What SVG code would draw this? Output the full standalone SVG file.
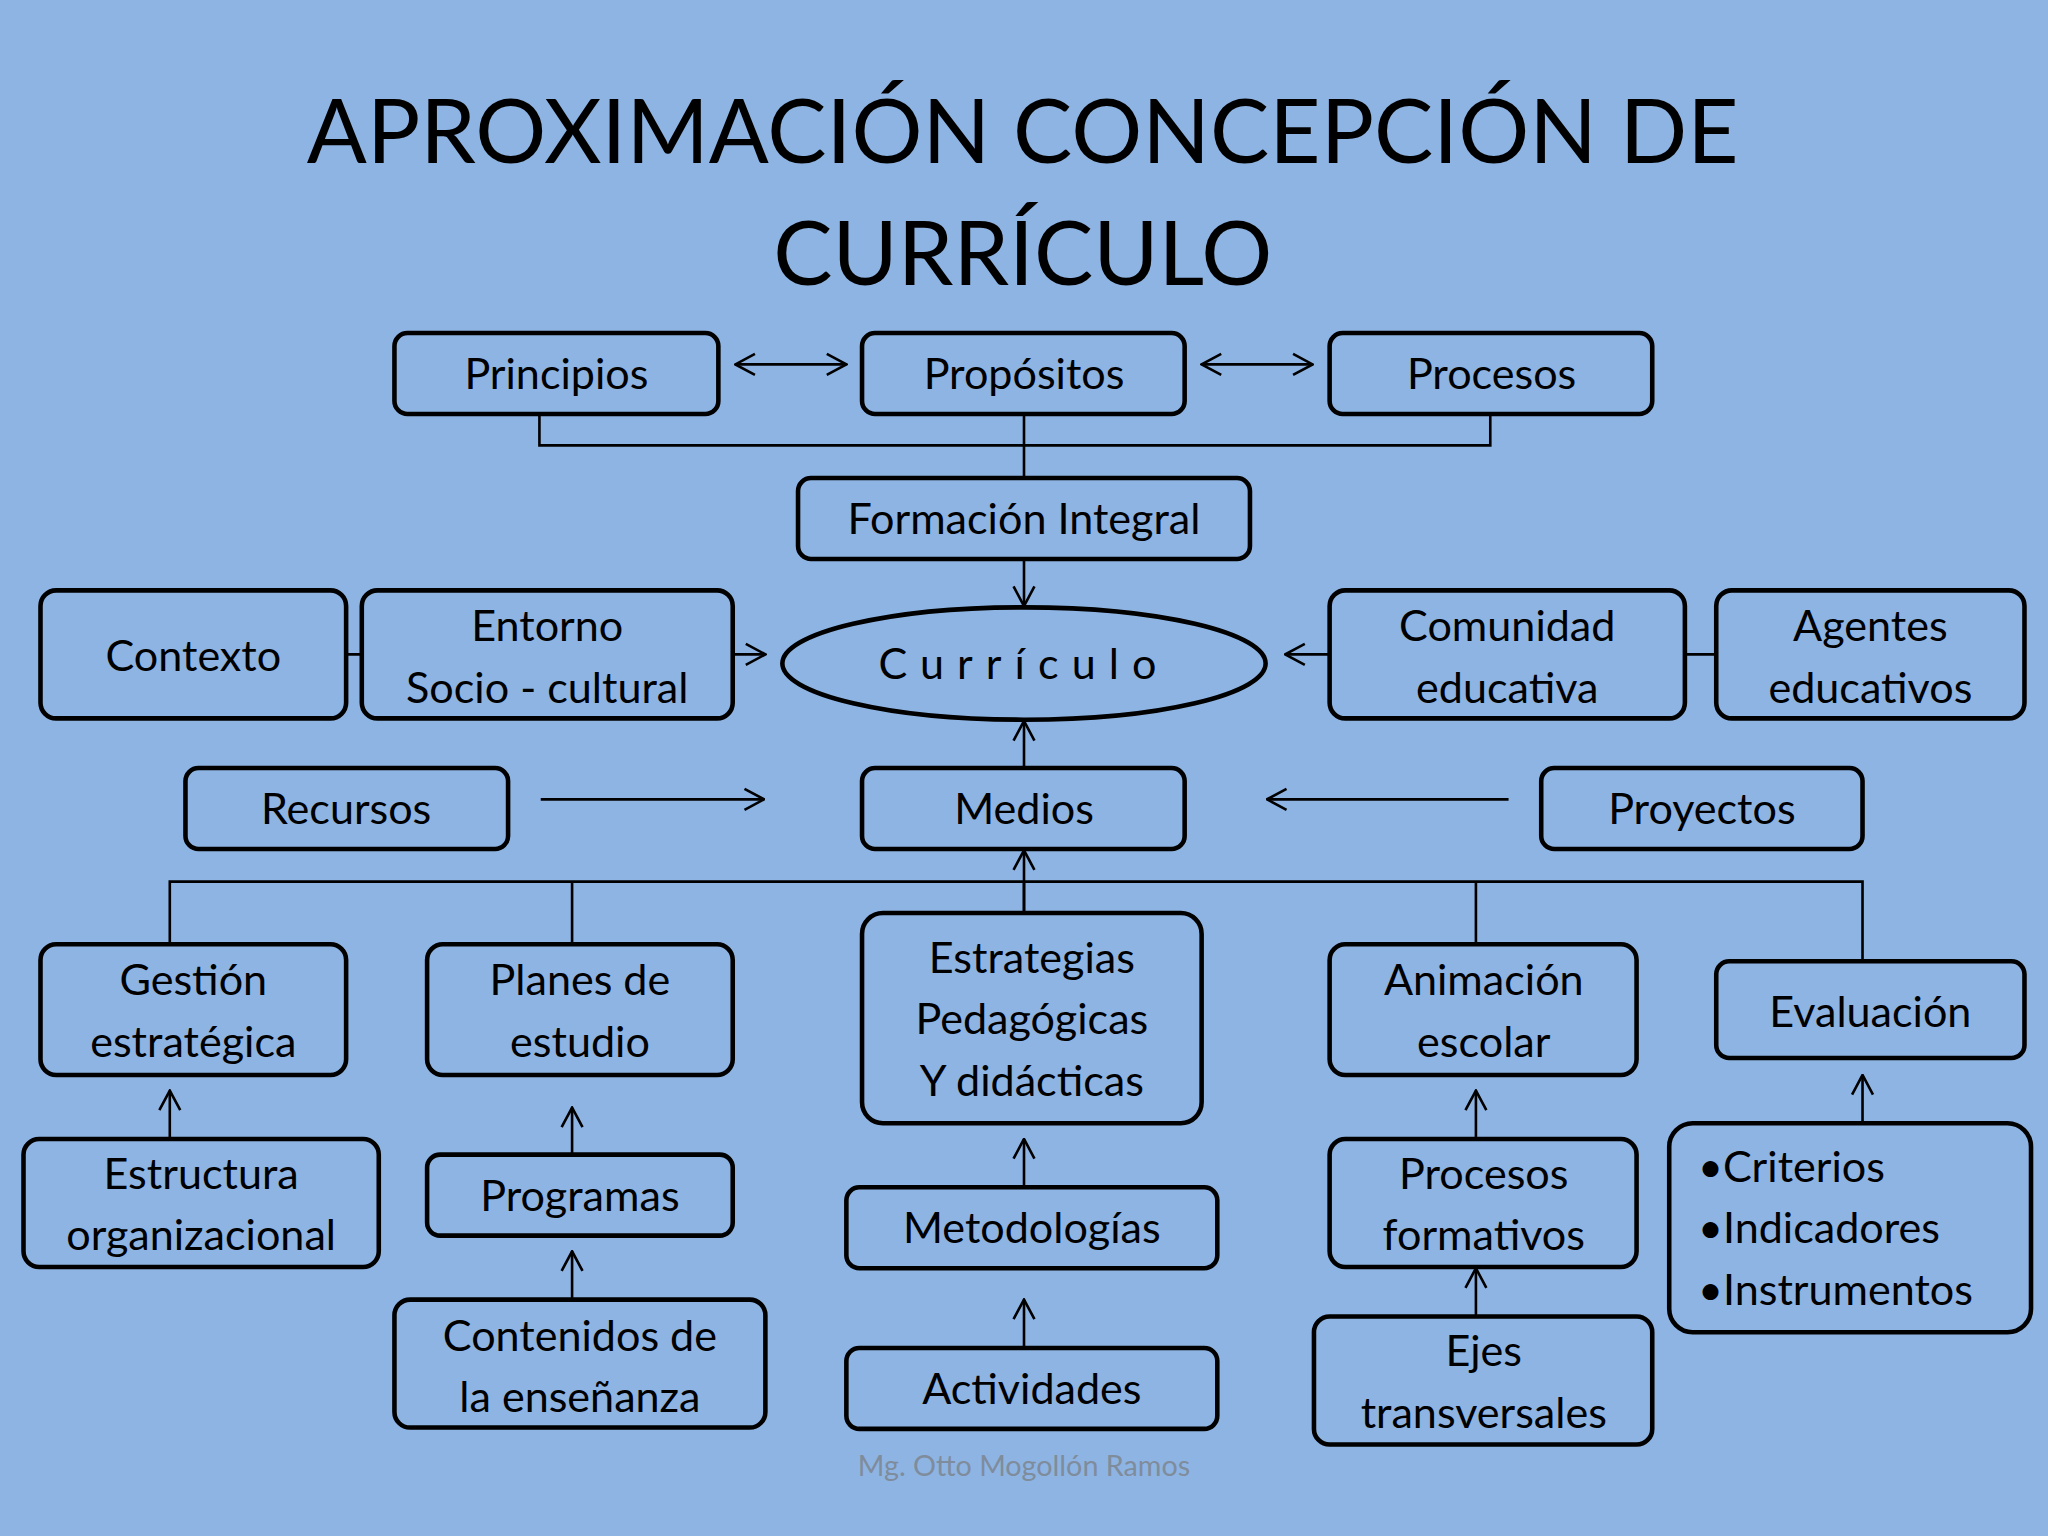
<svg xmlns="http://www.w3.org/2000/svg" width="2048" height="1536" viewBox="0 0 2048 1536">
<defs>
<marker id="a" viewBox="0 0 20 20" refX="19" refY="10" markerWidth="20" markerHeight="20" markerUnits="userSpaceOnUse" orient="auto-start-reverse"><path d="M4,2 L19,10 L4,18" fill="none" stroke="#000" stroke-width="2"/></marker>
<style>
.b{fill:#8eb4e3;stroke:#000;stroke-width:3.5}
.t{font-family:Lato,"Open Sans",sans-serif;font-size:33px;text-anchor:middle;fill:#000}
.l{fill:none;stroke:#000;stroke-width:2}
.ar{fill:none;stroke:#000;stroke-width:2;marker-end:url(#a)}
.dr{fill:none;stroke:#000;stroke-width:2;marker-end:url(#a);marker-start:url(#a)}
</style>
</defs>
<rect width="2048" height="1536" fill="#8eb4e3"/>
<g transform="scale(1.30612)">
<text x="783" y="125" style="font-family:Lato,'Open Sans',sans-serif;font-size:68px;text-anchor:middle">APROXIMACIÓN CONCEPCIÓN DE</text>
<text x="783" y="218" style="font-family:Lato,'Open Sans',sans-serif;font-size:68px;text-anchor:middle">CURRÍCULO</text>
<g id="connectors">
<path class="dr" d="M563,279 H648"/><path class="dr" d="M920,279 H1005"/>
<path class="l" d="M413,317 V341 H1141 V317 M784,317 V366"/>
<path class="ar" d="M784,428 V464"/>
<path class="l" d="M265,501 H277 M1290,501 H1314"/>
<path class="ar" d="M561,501 H586"/><path class="ar" d="M1018,501 H984"/>
<path class="ar" d="M784,588 V552"/>
<path class="ar" d="M414,612 H585"/><path class="ar" d="M1155,612 H970"/>
<path class="l" d="M130,723 V675 H1426 V736 M438,675 V723 M1130,675 V723 M784,675 V700"/>
<path class="ar" d="M784,700 V651"/>
<path class="ar" d="M130,872 V835"/><path class="ar" d="M438,884 V848"/><path class="ar" d="M438,995 V958"/>
<path class="ar" d="M784,909 V872"/><path class="ar" d="M784,1032 V995"/>
<path class="ar" d="M1130,872 V835"/><path class="ar" d="M1130,1008 V971"/><path class="ar" d="M1426,860 V823"/>
</g>
<g id="principios"><rect class="b" x="302" y="255" width="248" height="62" rx="10"/><text class="t" x="426" y="298">Principios</text></g>
<g id="propositos"><rect class="b" x="660" y="255" width="247" height="62" rx="10"/><text class="t" x="784" y="298">Propósitos</text></g>
<g id="procesos"><rect class="b" x="1018" y="255" width="247" height="62" rx="10"/><text class="t" x="1142" y="298">Procesos</text></g>
<g id="formacion"><rect class="b" x="611" y="366" width="346" height="62" rx="10"/><text class="t" x="784" y="409">Formación Integral</text></g>
<g id="curriculo"><ellipse class="b" cx="784" cy="508" rx="185" ry="43"/><text class="t" x="784" y="520" style="letter-spacing:10px">Currículo</text></g>
<g id="contexto"><rect class="b" x="31" y="452" width="234" height="98" rx="12"/><text class="t" x="148" y="514">Contexto</text></g>
<g id="entorno"><rect class="b" x="277" y="452" width="284" height="98" rx="12"/><text class="t" x="419" y="491">Entorno</text><text class="t" x="419" y="538">Socio - cultural</text></g>
<g id="comunidad"><rect class="b" x="1018" y="452" width="272" height="98" rx="12"/><text class="t" x="1154" y="491">Comunidad</text><text class="t" x="1154" y="538">educativa</text></g>
<g id="agentes"><rect class="b" x="1314" y="452" width="236" height="98" rx="12"/><text class="t" x="1432" y="491">Agentes</text><text class="t" x="1432" y="538">educativos</text></g>
<g id="recursos"><rect class="b" x="142" y="588" width="247" height="62" rx="10"/><text class="t" x="265" y="631">Recursos</text></g>
<g id="medios"><rect class="b" x="660" y="588" width="247" height="62" rx="10"/><text class="t" x="784" y="631">Medios</text></g>
<g id="proyectos"><rect class="b" x="1180" y="588" width="246" height="62" rx="10"/><text class="t" x="1303" y="631">Proyectos</text></g>
<g id="gestion"><rect class="b" x="31" y="723" width="234" height="100" rx="12"/><text class="t" x="148" y="762">Gestión</text><text class="t" x="148" y="809">estratégica</text></g>
<g id="planes"><rect class="b" x="327" y="723" width="234" height="100" rx="12"/><text class="t" x="444" y="762">Planes de</text><text class="t" x="444" y="809">estudio</text></g>
<g id="estrategias"><rect class="b" x="660" y="699" width="260" height="161" rx="16"/><text class="t" x="790" y="745">Estrategias</text><text class="t" x="790" y="792">Pedagógicas</text><text class="t" x="790" y="839">Y didácticas</text></g>
<g id="animacion"><rect class="b" x="1018" y="723" width="235" height="100" rx="12"/><text class="t" x="1136" y="762">Animación</text><text class="t" x="1136" y="809">escolar</text></g>
<g id="evaluacion"><rect class="b" x="1314" y="736" width="236" height="74" rx="10"/><text class="t" x="1432" y="786">Evaluación</text></g>
<g id="estructura"><rect class="b" x="18" y="872" width="272" height="98" rx="12"/><text class="t" x="154" y="910">Estructura</text><text class="t" x="154" y="957">organizacional</text></g>
<g id="programas"><rect class="b" x="327" y="884" width="234" height="62" rx="10"/><text class="t" x="444" y="927">Programas</text></g>
<g id="contenidos"><rect class="b" x="302" y="995" width="284" height="98" rx="12"/><text class="t" x="444" y="1034">Contenidos de</text><text class="t" x="444" y="1081">la enseñanza</text></g>
<g id="metodologias"><rect class="b" x="648" y="909" width="284" height="62" rx="10"/><text class="t" x="790" y="952">Metodologías</text></g>
<g id="actividades"><rect class="b" x="648" y="1032" width="284" height="62" rx="10"/><text class="t" x="790" y="1075">Actividades</text></g>
<g id="procform"><rect class="b" x="1018" y="872" width="235" height="98" rx="12"/><text class="t" x="1136" y="910">Procesos</text><text class="t" x="1136" y="957">formativos</text></g>
<g id="ejes"><rect class="b" x="1006" y="1008" width="259" height="98" rx="12"/><text class="t" x="1136" y="1046">Ejes</text><text class="t" x="1136" y="1093">transversales</text></g>
<g id="criterios"><rect class="b" x="1278" y="860" width="277" height="160" rx="18"/>
<text class="t" x="1300" y="905" style="text-anchor:start">•Criterios</text><text class="t" x="1300" y="952" style="text-anchor:start">•Indicadores</text><text class="t" x="1300" y="999" style="text-anchor:start">•Instrumentos</text></g>
<text x="784" y="1130" style="font-family:Lato,'Open Sans',sans-serif;font-size:22px;text-anchor:middle;fill:#7f8c9c">Mg. Otto Mogollón Ramos</text>
</g>
</svg>
